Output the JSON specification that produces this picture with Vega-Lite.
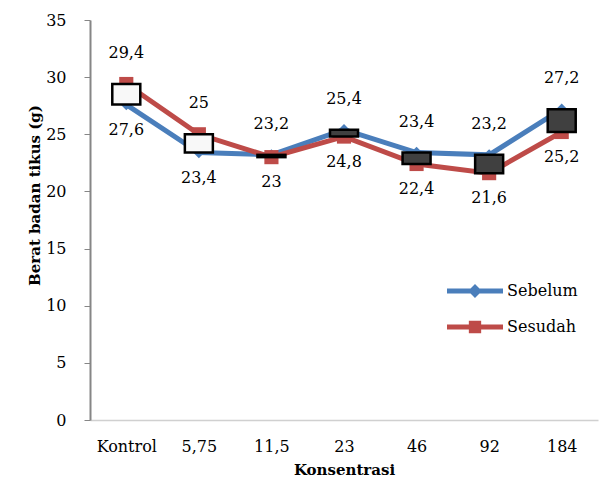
{
  "$schema": "https://vega.github.io/schema/vega-lite/v6.json",
  "width": 508,
  "height": 400,
  "autosize": {"type": "none"},
  "padding": {"left": 90, "top": 20, "right": 2, "bottom": 64},
  "background": "white",
  "config": {
    "view": {"stroke": null},
    "font": "DejaVu Serif",
    "locale": {"number": {"decimal": ",", "thousands": ".", "grouping": [3], "currency": ["", ""]}},
    "axis": {"labelFont": "DejaVu Serif", "titleFont": "DejaVu Serif", "labelFontSize": 16, "labelColor": "black", "titleColor": "black", "titleFontSize": 15, "titleFontWeight": "bold", "domainColor": "#868686", "tickColor": "#868686", "grid": false},
    "legend": {"labelFont": "DejaVu Serif"}
  },
  "data": {
    "values": [
      {"k": "Kontrol", "Sebelum": 27.6, "Sesudah": 29.4},
      {"k": "5,75", "Sebelum": 23.4, "Sesudah": 25},
      {"k": "11,5", "Sebelum": 23.2, "Sesudah": 23},
      {"k": "23", "Sebelum": 25.4, "Sesudah": 24.8},
      {"k": "46", "Sebelum": 23.4, "Sesudah": 22.4},
      {"k": "92", "Sebelum": 23.2, "Sesudah": 21.6},
      {"k": "184", "Sebelum": 27.2, "Sesudah": 25.2}
    ]
  },
  "encoding": {
    "x": {"field": "k", "type": "nominal", "sort": null, "scale": {"type": "point", "padding": 0.5},
      "axis": {"title": "Konsentrasi", "labelAngle": 0, "ticks": false, "labelPadding": 18, "titlePadding": 8, "domainWidth": 1.5, "domainColor": "#d0d0d0"}}
  },
  "layer": [
    {
      "transform": [{"fold": ["Sebelum", "Sesudah"], "as": ["series", "value"]}],
      "mark": {"type": "line", "strokeWidth": 5},
      "encoding": {
        "y": {"field": "value", "type": "quantitative", "scale": {"domain": [0, 35]},
          "axis": {"title": "Berat badan tikus (g)", "values": [0, 5, 10, 15, 20, 25, 30, 35], "tickSize": 6, "labelPadding": 18, "titlePadding": 3, "domainWidth": 2, "titleY": 175}},
        "color": {"field": "series", "type": "nominal", "scale": {"domain": ["Sebelum", "Sesudah"], "range": ["#4a7ebb", "#be4b48"]},
          "legend": {"title": null, "orient": "none", "legendX": 357, "legendY": 243, "symbolType": "M-1,-0.09L1,-0.09L1,0.09L-1,0.09Z", "symbolSize": 3136, "symbolStrokeWidth": 0, "labelFontSize": 16, "labelFont": "DejaVu Serif", "labelColor": "black", "labelOffset": 4, "rowPadding": -11,
            "encode": {"symbols": {"update": {
              "shape": {"signal": "datum.value === 'Sebelum' ? 'M-1,-0.09L-0.16,-0.09L0,-0.25L0.16,-0.09L1,-0.09L1,0.09L0.16,0.09L0,0.25L-0.16,0.09L-1,0.09Z' : 'M-1,-0.09L-0.22,-0.09L-0.22,-0.22L0.22,-0.22L0.22,-0.09L1,-0.09L1,0.09L0.22,0.09L0.22,0.22L-0.22,0.22L-0.22,0.09L-1,0.09Z'"},
              "fill": {"signal": "datum.value === 'Sebelum' ? '#4a7ebb' : '#be4b48'"},
              "strokeWidth": {"value": 0}
            }}}}}
      }
    },
    {
      "mark": {"type": "point", "filled": true, "opacity": 1, "shape": "diamond", "size": 130, "color": "#4a7ebb"},
      "encoding": {
        "y": {"field": "Sebelum", "type": "quantitative"}
      }
    },
    {
      "mark": {"type": "point", "filled": true, "opacity": 1, "shape": "square", "size": 200, "color": "#be4b48"},
      "encoding": {
        "y": {"field": "Sesudah", "type": "quantitative"}
      }
    },
    {
      "mark": {"type": "bar", "size": 28, "stroke": "black", "strokeWidth": 2.5},
      "encoding": {
        "y": {"field": "Sebelum", "type": "quantitative"},
        "y2": {"field": "Sesudah"},
        "fill": {"condition": {"test": "datum.Sesudah > datum.Sebelum", "value": "#f8f8f8"}, "value": "#404040"}
      }
    },
    {
      "transform": [{"fold": ["Sebelum", "Sesudah"], "as": ["series", "value"]}, {"filter": "datum.value >= (datum.series === 'Sebelum' ? datum.Sesudah : datum.Sebelum)"}],
      "mark": {"type": "text", "dy": -31, "fontSize": 16, "font": "DejaVu Serif", "color": "black"},
      "encoding": {
        "y": {"field": "value", "type": "quantitative"},
        "text": {"field": "value", "type": "quantitative", "format": ".1~f"}
      }
    },
    {
      "transform": [{"fold": ["Sebelum", "Sesudah"], "as": ["series", "value"]}, {"filter": "datum.value < (datum.series === 'Sebelum' ? datum.Sesudah : datum.Sebelum)"}],
      "mark": {"type": "text", "dy": 25, "fontSize": 16, "font": "DejaVu Serif", "color": "black"},
      "encoding": {
        "y": {"field": "value", "type": "quantitative"},
        "text": {"field": "value", "type": "quantitative", "format": ".1~f"}
      }
    }
  ]
}
